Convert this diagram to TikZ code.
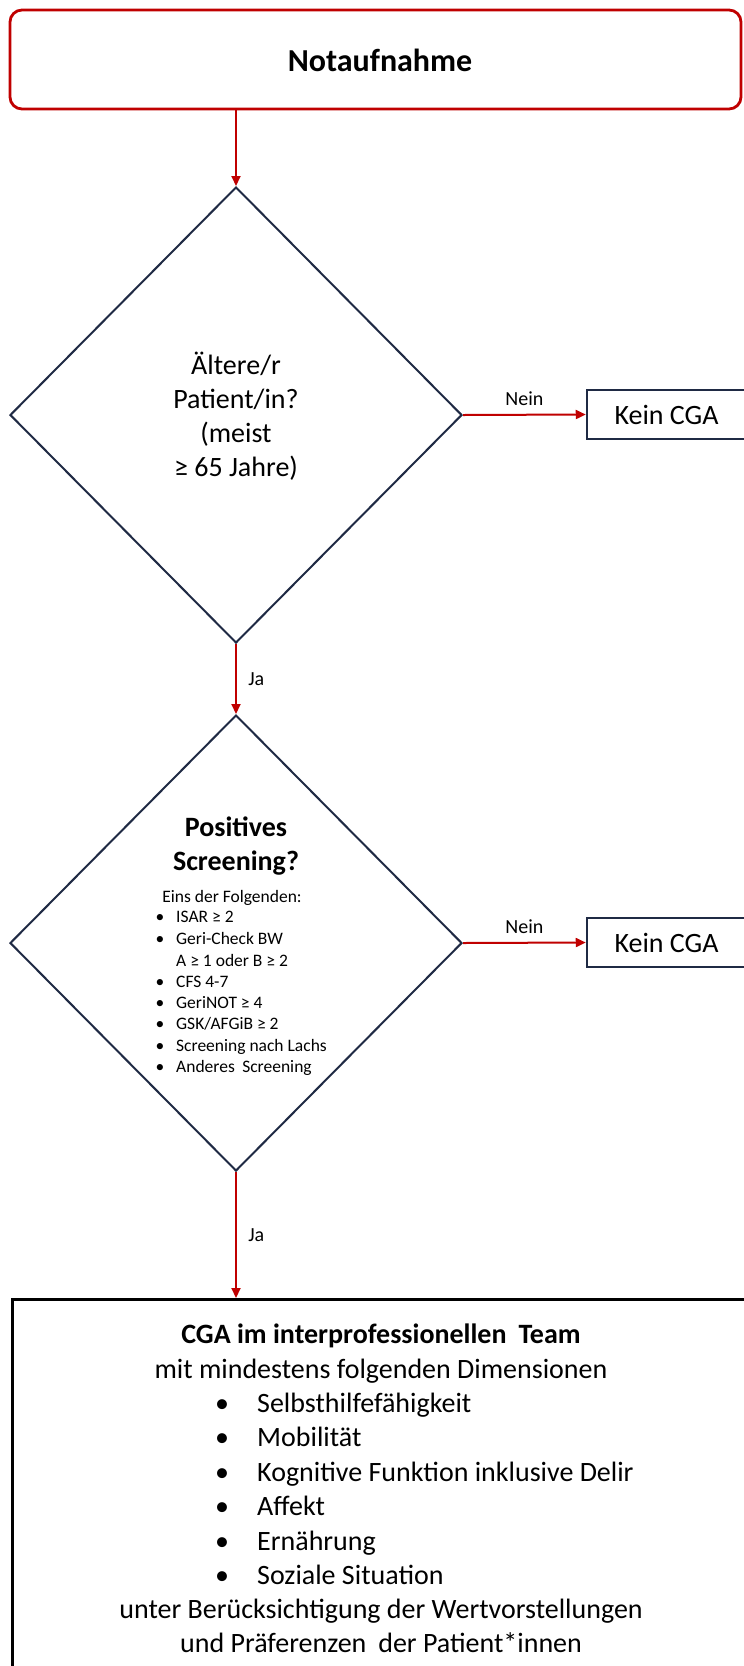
\documentclass[tikz,border=0pt]{standalone}
\usepackage{fontspec}
\setmainfont{Carlito}
\usetikzlibrary{arrows.meta,shapes.geometric}
\definecolor{cgared}{HTML}{C00000}
\definecolor{cganavy}{HTML}{1F2A44}
\newcommand\gskitem{GSK/AFGiB ≥ 2}
\newcommand\andersitem{Anderes\hspace{0.2em} Screening}
\begin{document}
\begin{tikzpicture}[x=1pt,y=-1pt,
  flow/.style={draw=cgared, line width=2pt, -{Triangle[length=10pt,width=9pt]}},
  topbox/.style={draw=cgared, line width=2.8pt, rounded corners=12pt, inner sep=0pt},
  decision/.style={diamond, draw=cganavy, line width=2pt, inner sep=0pt, minimum width=452pt, minimum height=456pt},
  keinbox/.style={draw=cganavy, line width=2.5pt, inner sep=0pt, minimum width=159pt, minimum height=49pt, font=\fontsize{28}{34}\selectfont},
  cgabox/.style={draw=black, line width=2.5pt, inner sep=0pt},
  big/.style={font=\fontsize{28}{34}\selectfont, inner sep=0pt},
  bigb/.style={font=\bfseries\fontsize{28}{34}\selectfont, inner sep=0pt},
  small/.style={font=\fontsize{17.5}{21.4}\selectfont, inner sep=0pt},
  lbl/.style={font=\fontsize{20}{24}\selectfont}
]
\useasboundingbox (0,0) rectangle (744,1666);
\clip (0,0) rectangle (744,1666);
\fill[white] (0,0) rectangle (744,1666);

% top box
\node[topbox, minimum width=731pt, minimum height=99pt] (top) at (375.5,59.5) {};
\node[inner sep=0pt, font=\bfseries\fontsize{32}{38}\selectfont] (topt) at (380,60) {Notaufnahme};

% decision 1
\node[decision] (d1) at (236,415) {};
\node[big, align=center] (q1) at (236,416) {Ältere/r\\Patient/in?\\(meist\\≥ 65 Jahre)};
\node[keinbox] (k1) at (666.5,414.5) {Kein CGA};

% decision 2
\node[decision] (d2) at (236,943) {};
\node[bigb, anchor=base] (p1) at (236,836) {Positives};
\node[bigb, anchor=base] (p2) at (236,870) {Screening?};
\node[small, anchor=base] (p3) at (232,902) {Eins der Folgenden:};
\foreach \y/\t [count=\i] in {922/ISAR ≥ 2, 944/Geri-Check BW, 987/CFS 4-7, 1008/GeriNOT ≥ 4, 1029/\gskitem, 1051/Screening nach Lachs, 1072/\andersitem}{
  \node[small, anchor=base] (sd\i) at (160,\y) {•};
  \node[small, anchor=base west] (st\i) at (176,\y) {\t};
}
\node[small, anchor=base west] (sx) at (176,966) {A ≥ 1 oder B ≥ 2};
\node[keinbox] (k2) at (666.5,942.5) {Kein CGA};

% CGA box
\node[cgabox, minimum width=750pt, minimum height=420pt, anchor=north west] (cga) at (11,1298) {};
\node[bigb, anchor=base] (c1) at (381,1343) {CGA im interprofessionellen\hspace{0.2em} Team};
\node[big, anchor=base] (c2) at (381,1378) {mit mindestens folgenden Dimensionen};
\foreach \t [count=\i] in {Selbsthilfefähigkeit, Mobilität, Kognitive Funktion inklusive Delir, Affekt, Ernährung, Soziale Situation}{
  \node[big, anchor=base] (cd\i) at (222,{1378+\i*34.4}) {•};
  \node[big, anchor=base west] (ct\i) at (257,{1378+\i*34.4}) {\t};
}
\node[big, anchor=base] (c9) at (381,1618) {unter Berücksichtigung der Wertvorstellungen};
\node[big, anchor=base] (c10) at (381,1652) {und Präferenzen\hspace{0.2em} der Patient*innen};

% connectors
\draw[flow] (top.south -| d1.north) -- (d1.north);
\draw[flow] (d1.east) -- node[lbl, above=5pt] (n1) {Nein} (k1.west);
\draw[flow] (d1.south) -- node[lbl, right=8pt] (j1) {Ja} (d2.north);
\draw[flow] (d2.east) -- node[lbl, above=5pt] (n2) {Nein} (k2.west);
\draw[flow] (d2.south) -- node[lbl, right=8pt] (j2) {Ja} (cga.north -| d2.south);
\end{tikzpicture}
\end{document}
